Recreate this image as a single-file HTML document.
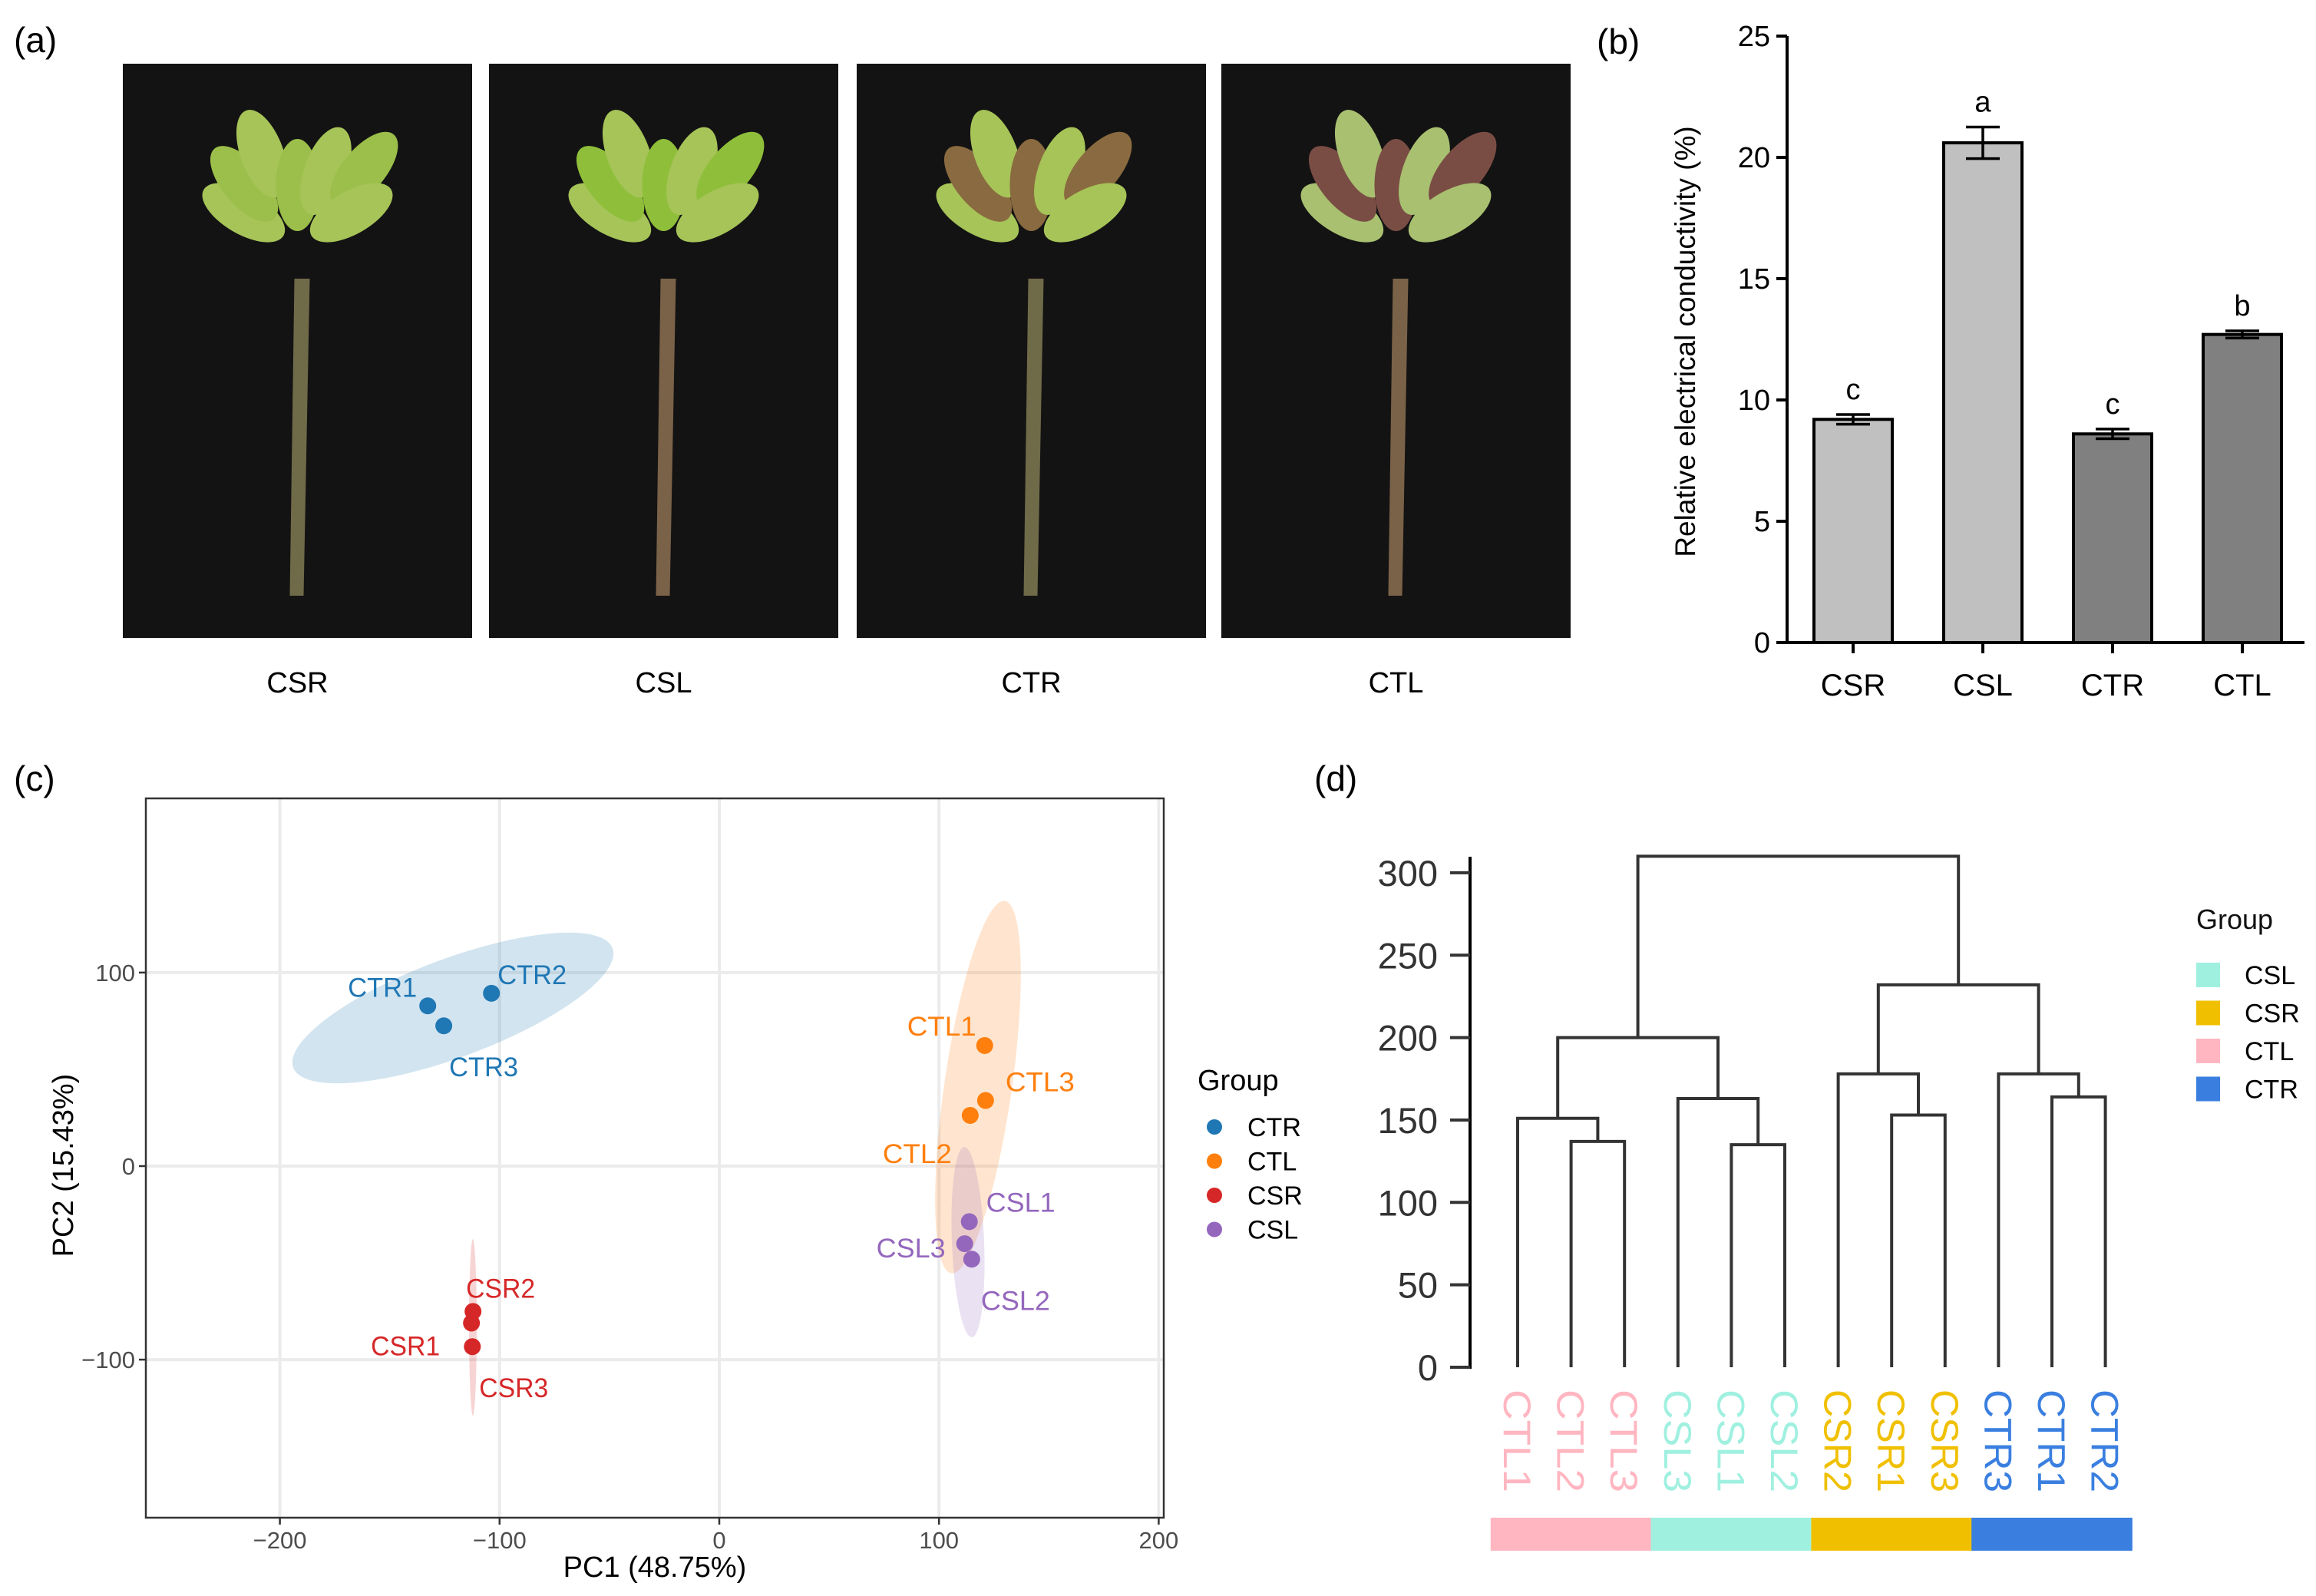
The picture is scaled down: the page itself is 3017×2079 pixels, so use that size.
<!DOCTYPE html>
<html><head><meta charset="utf-8"><style>
body{margin:0;background:#fff;overflow:hidden}
svg{display:block;font-family:"Liberation Sans",sans-serif}
</style></head><body>
<svg id="fig" width="3017" height="2079" viewBox="0 0 3017 2079">
<g id="pa">
<text x="18" y="68" font-size="46">(a)</text>
</g>
<g id="pb">
<text x="2080" y="70" font-size="46">(b)</text>
</g>
<g id="pc">
<text x="18" y="1030" font-size="46">(c)</text>
</g>
<g id="pd">
<text x="1712" y="1030" font-size="46">(d)</text>
</g>
</svg>
<script>
// ---------- data ----------
const photoLabels=["CSR","CSL","CTR","CTL"];
const barCats=["CSR","CSL","CTR","CTL"];
const barVals=[9.2,20.6,8.6,12.7];
const barErr=[0.2,0.65,0.2,0.15];
const barLetters=["c","a","c","b"];
const barTicks=[0,5,10,15,20,25];
const pcaNames=["CTR1","CTR2","CTR3","CTL1","CTL2","CTL3","CSR1","CSR2","CSR3","CSL1","CSL2","CSL3"];
const pcaGroup=["CTR","CTR","CTR","CTL","CTL","CTL","CSR","CSR","CSR","CSL","CSL","CSL"];
const pcaX=[-132.7,-103.7,-125.4,120.8,114.2,121.2,-112.8,-112.1,-112.4,113.8,114.9,111.7];
const pcaY=[82.8,89.3,72.5,62.3,26.2,33.9,-81.1,-75.1,-93.3,-28.7,-48.1,-40.1];
const pcaXTicks=[-200,-100,0,100,200];
const pcaYTicks=[-100,0,100];
const legendGroups=["CTR","CTL","CSR","CSL"];
const dendLeaves=["CTL1","CTL2","CTL3","CSL3","CSL1","CSL2","CSR2","CSR1","CSR3","CTR3","CTR1","CTR2"];
const dendLeafGroup=["CTL","CTL","CTL","CSL","CSL","CSL","CSR","CSR","CSR","CTR","CTR","CTR"];
const dendMerges=[[1,2,137],[0,"m0",151],[4,5,135],[3,"m2",163],["m1","m3",200],[7,8,153],[6,"m5",178],[10,11,164],[9,"m7",178],["m6","m8",232],["m4","m9",310]];
const dendTicks=[0,50,100,150,200,250,300];
const dendLegend=["CSL","CSR","CTL","CTR"];

const NS="http://www.w3.org/2000/svg";
function mk(parent,tag,attrs,text){const e=document.createElementNS(NS,tag);for(const k in attrs)e.setAttribute(k,attrs[k]);if(text!==undefined)e.textContent=text;parent.appendChild(e);return e;}

// ---------- panel a ----------
const pa=document.getElementById('pa');
const photoX=[160,637,1116,1591];
photoLabels.forEach((lab,i)=>{
 const g=mk(pa,'g',{});
 
 
 const x=photoX[i],w=455,y=83,h=748;
 mk(g,'rect',{x:x,y:y,width:w,height:h,fill:'#141313'});
 const cx=x+w/2;
 const stem=i%2==0?'#6f6a48':'#7a6248';
 mk(g,'path',{d:`M${cx-10} ${y+h-55} L${cx+8} ${y+h-55} L${cx+16} ${y+280} L${cx-4} ${y+280} Z`,fill:stem});
 const leaf=i==0?'#9bbf4a':i==1?'#8fbf3a':i==2?'#8a6a40':'#7a4d44';
 const leaf2=i==3?'#a8c070':'#a6c458';
 for(let k=0;k<7;k++){const a=-150+k*20;const r=90+(k%3)*30;
  const ex=cx+Math.cos(a*Math.PI/180)*r*0.9, ey=y+230+Math.sin(a*Math.PI/180)*r*0.8;
  mk(g,'ellipse',{cx:ex,cy:ey,rx:60,ry:28,fill:k%2?leaf:leaf2,transform:`rotate(${a} ${ex} ${ey})`});}
 const t=mk(g,'text',{x:cx,y:902,'font-size':38,'text-anchor':'middle'},lab);
 
 
});

// ---------- panel b ----------
const pb=document.getElementById('pb');
const bx0=2328,by0=837,by1=47,bMax=25;
const yB=v=>by0-(v/bMax)*(by0-by1);
const barCenters=[2414,2583,2752,2921];
const barW=102;
mk(pb,'line',{x1:bx0,y1:by1,x2:bx0,y2:by0+2,stroke:'#000','stroke-width':4});
mk(pb,'line',{x1:bx0-2,y1:by0,x2:3002,y2:by0,stroke:'#000','stroke-width':4});
barTicks.forEach(v=>{
 mk(pb,'line',{x1:bx0-14,y1:yB(v),x2:bx0,y2:yB(v),stroke:'#000','stroke-width':4});
 const t=mk(pb,'text',{x:bx0-22,y:yB(v)+13,'font-size':38,'text-anchor':'end'},String(v));
 
 
});
barCats.forEach((c,i)=>{
 const cx=barCenters[i];
 const r=mk(pb,'rect',{x:cx-barW/2,y:yB(barVals[i]),width:barW,height:by0-yB(barVals[i]),fill:i<2?'#c0c0c0':'#808080',stroke:'#000','stroke-width':4});
 
 
 const e1=yB(barVals[i]+barErr[i]),e2=yB(barVals[i]-barErr[i]);
 mk(pb,'line',{x1:cx,y1:e1,x2:cx,y2:e2,stroke:'#000','stroke-width':3.5});
 mk(pb,'line',{x1:cx-22,y1:e1,x2:cx+22,y2:e1,stroke:'#000','stroke-width':3.5});
 mk(pb,'line',{x1:cx-22,y1:e2,x2:cx+22,y2:e2,stroke:'#000','stroke-width':3.5});
 mk(pb,'line',{x1:cx,y1:by0,x2:cx,y2:by0+14,stroke:'#000','stroke-width':4});
 const l=mk(pb,'text',{x:cx,y:e1-20,'font-size':38,'text-anchor':'middle'},barLetters[i]);
 
 
 const t=mk(pb,'text',{x:cx,y:906,'font-size':40,'text-anchor':'middle'},c);
 
 
});
const yt=mk(pb,'text',{x:0,y:0,'font-size':37,'text-anchor':'middle',transform:'translate(2208,445) rotate(-90)'},'Relative electrical conductivity  (%)');



// ---------- panel c ----------
const pc=document.getElementById('pc');
const cL=190,cR=1516,cT=1040,cB=1977;
const xC=v=>937+v*2.862, yC=v=>1519-v*2.521;
const colors={CTR:'#1f77b4',CTL:'#ff7f0e',CSR:'#d62728',CSL:'#9467bd'};
mk(pc,'rect',{x:cL,y:cT,width:cR-cL,height:cB-cT,fill:'#fff'});
pcaXTicks.forEach(v=>mk(pc,'line',{x1:xC(v),y1:cT,x2:xC(v),y2:cB,stroke:'#ebebeb','stroke-width':4}));
pcaYTicks.forEach(v=>mk(pc,'line',{x1:cL,y1:yC(v),x2:cR,y2:yC(v),stroke:'#ebebeb','stroke-width':4}));
const ell=[['CTR',590,1313,222,64,-20.5],['CTL',1274,1416,44,245,8.2],['CSL',1261,1618,21,124,-2.3],['CSR',616,1729,5,115,0]];
ell.forEach(e=>{const el=mk(pc,'ellipse',{cx:e[1],cy:e[2],rx:e[3],ry:e[4],fill:colors[e[0]],'fill-opacity':0.2,transform:`rotate(${e[5]} ${e[1]} ${e[2]})`});
 
 });
mk(pc,'rect',{x:cL,y:cT,width:cR-cL,height:cB-cT,fill:'none',stroke:'#333','stroke-width':2.5});
const labOff={CTR1:[-104,-24],CTR2:[8,-24],CTR3:[7,54],CTL1:[-101,-25],CTL2:[-114,50],CTL3:[26,-24],CSL1:[22,-25],CSL3:[-115,6],CSL2:[12,54],CSR2:[-9,-30],CSR1:[-131,30],CSR3:[9,54]};
pcaNames.forEach((n,i)=>{
 const px=xC(pcaX[i]),py=yC(pcaY[i]);
 const d=mk(pc,'circle',{cx:px,cy:py,r:11,fill:colors[pcaGroup[i]]});
 
 
 const o=labOff[n];
 const t=mk(pc,'text',{x:px+o[0],y:py+o[1]+12,'font-size':35,fill:colors[pcaGroup[i]],textLength:90,lengthAdjust:'spacingAndGlyphs'},n);
 
 
});
pcaXTicks.forEach(v=>{mk(pc,'line',{x1:xC(v),y1:cB,x2:xC(v),y2:cB+9,stroke:'#333','stroke-width':2.5});
 const t=mk(pc,'text',{x:xC(v),y:cB+40,'font-size':31,fill:'#4d4d4d','text-anchor':'middle'},v<0?'\u2212'+(-v):String(v));
 
 });
pcaYTicks.forEach(v=>{mk(pc,'line',{x1:cL-9,y1:yC(v),x2:cL,y2:yC(v),stroke:'#333','stroke-width':2.5});
 const t=mk(pc,'text',{x:cL-14,y:yC(v)+11,'font-size':31,fill:'#4d4d4d','text-anchor':'end'},v<0?'\u2212'+(-v):String(v));
 
 });
const xt=mk(pc,'text',{x:853,y:2054,'font-size':38,'text-anchor':'middle'},'PC1 (48.75%)');


const yt2=mk(pc,'text',{x:0,y:0,'font-size':38,'text-anchor':'middle',transform:'translate(95,1518) rotate(-90)'},'PC2 (15.43%)');


const lg=mk(pc,'text',{x:1560,y:1420,'font-size':38},'Group');


legendGroups.forEach((g,i)=>{const y=1468+i*44.5;
 const c=mk(pc,'circle',{cx:1582,cy:y,r:10,fill:colors[g]});
 
 
 const t=mk(pc,'text',{x:1625,y:y+12,'font-size':34},g);
 
 });

// ---------- panel d ----------
const pd=document.getElementById('pd');
const dAx=1915;
const yD=v=>1781-v*2.147;
const xD=i=>1977+i*69.6;
const dcol={CTL:'#ffb6c1',CSL:'#a0f0e0',CSR:'#f0c000',CTR:'#3a7fe0'};
mk(pd,'line',{x1:dAx,y1:1116,x2:dAx,y2:yD(0)+2,stroke:'#000','stroke-width':4});
dendTicks.forEach(v=>{mk(pd,'line',{x1:dAx-26,y1:yD(v),x2:dAx,y2:yD(v),stroke:'#333','stroke-width':4});
 const t=mk(pd,'text',{x:1873,y:yD(v)+17,'font-size':47,fill:'#333','text-anchor':'end'},String(v));
 
 });
const nodes={};
function pos(n){return typeof n==='number'?[xD(n),0]:nodes[n];}
dendMerges.forEach((m,k)=>{
 const a=pos(m[0]),b=pos(m[1]),h=m[2];
 const p=mk(pd,'path',{d:`M${a[0]} ${yD(a[1])} V${yD(h)} H${b[0]} V${yD(b[1])}`,fill:'none',stroke:'#333','stroke-width':4});
 
 
 nodes['m'+k]=[(a[0]+b[0])/2,h];
});
dendLeaves.forEach((n,i)=>{
 const t=mk(pd,'text',{x:0,y:0,'font-size':50,fill:dcol[dendLeafGroup[i]],textLength:134,lengthAdjust:'spacingAndGlyphs',transform:`translate(${xD(i)-18},1810) rotate(90)`},n);
 
 
 const r=mk(pd,'rect',{x:xD(i)-35.2,y:1977,width:70.4,height:43,fill:dcol[dendLeafGroup[i]]});
 
 
});
const dlg=mk(pd,'text',{x:2861,y:1210,'font-size':36,fill:'#111'},'Group');


dendLegend.forEach((g,i)=>{const y=1270+i*49.5;
 const r=mk(pd,'rect',{x:2861,y:y-16,width:31,height:32,fill:dcol[g]});
 
 
 const t=mk(pd,'text',{x:2924,y:y+12,'font-size':34},g);
 
 });
</script>
</body></html>
